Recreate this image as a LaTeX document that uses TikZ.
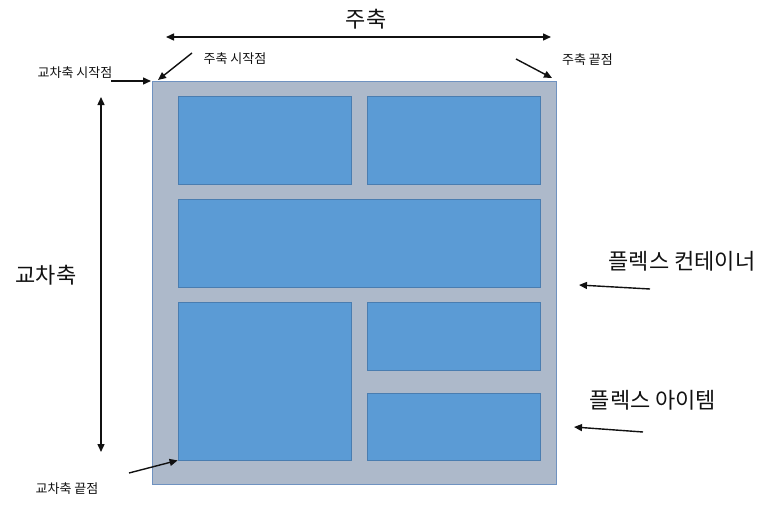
\documentclass[tikz,border=0pt]{standalone}
\usepackage{fontspec}
\newfontfamily\kr{Noto Sans CJK KR}
\usepackage{tikz}
\usetikzlibrary{arrows.meta,positioning}
\definecolor{boxgrey}{HTML}{ADB9CA}
\definecolor{boxedge}{HTML}{6F92C0}
\definecolor{itemblue}{HTML}{5B9BD5}
\definecolor{itemedge}{HTML}{4A7DB0}
\definecolor{inkblack}{HTML}{111111}
\tikzset{
  flexbox/.style={draw=boxedge,fill=boxgrey,line width=0.9pt,inner sep=0pt},
  flexitem/.style={draw=itemedge,fill=itemblue,line width=0.8pt,inner sep=0pt},
  smalltag/.style={inkblack,font=\kr\fontsize{13}{15}\selectfont,inner sep=0pt},
  bigtag/.style={inkblack,font=\kr\fontsize{22}{26}\selectfont,inner sep=0pt},
  pointer/.style={inkblack,line width=1.4pt,-{Triangle[length=8pt,width=7pt]}},
  twoway/.style={pointer,{Triangle[length=8pt,width=7pt]}-{Triangle[length=8pt,width=7pt]}},
}
\begin{document}
\begin{tikzpicture}[x=1pt,y=-1pt]
  \useasboundingbox (0,0) rectangle (773,506);
  % container and its items, positions in pixels of the original
  \node[flexbox,minimum width=404pt,minimum height=403pt] (cont) at (354,283) {};
  \node[flexitem,minimum width=173pt,minimum height=88pt] (itemA) at (264.5,140) {};
  \node[flexitem,minimum width=173pt,minimum height=88pt] (itemB) at (453.5,140) {};
  \node[flexitem,minimum width=362pt,minimum height=88pt] (itemC) at (359,243) {};
  \node[flexitem,minimum width=173pt,minimum height=158pt] (itemD) at (264.5,381) {};
  \node[flexitem,minimum width=173pt,minimum height=68pt] (itemE) at (453.5,336) {};
  \node[flexitem,minimum width=173pt,minimum height=67pt] (itemF) at (453.5,426.5) {};

  % labels
  \node[bigtag] (mainlbl) at (366,19) {주축};
  \node[bigtag] (crosslbl) at (46,275) {교차축};
  \node[smalltag] (mainstart) at (235,59) {주축 시작점};
  \node[smalltag] (mainend) at (587.5,60) {주축 끝점};
  \node[smalltag] (crossstart) at (75,73) {교차축 시작점};
  \node[smalltag] (crossend) at (67,489) {교차축 끝점};
  \node[bigtag] (contlbl) at (682,261) {플렉스 컨테이너};
  \node[bigtag] (itemlbl) at (653,400) {플렉스 아이템};

  % axes
  \coordinate (mainL) at (166,37);
  \coordinate (mainR) at (551,37);
  \coordinate (crossT) at (101,97);
  \coordinate (crossB) at (101,452);
  \draw[twoway] (mainL) -- (mainR);
  \draw[twoway] (crossT) -- (crossB);

  % pointers
  \coordinate (p1) at (192,53);
  \coordinate (p2) at (516,59);
  \coordinate (p3) at (111,81);
  \coordinate (p4) at (129,473);
  \coordinate (p5) at (650,289);
  \coordinate (p6) at (643,432);
  \draw[pointer] (p1) -- (158,80);
  \draw[pointer] (p2) -- (552,78);
  \draw[pointer] (p3) -- (151,81);
  \draw[pointer] (p4) -- (itemD.south west);
  \draw[pointer] (p5) -- (579,285);
  \draw[pointer] (p6) -- (574,427);
\end{tikzpicture}
\end{document}
